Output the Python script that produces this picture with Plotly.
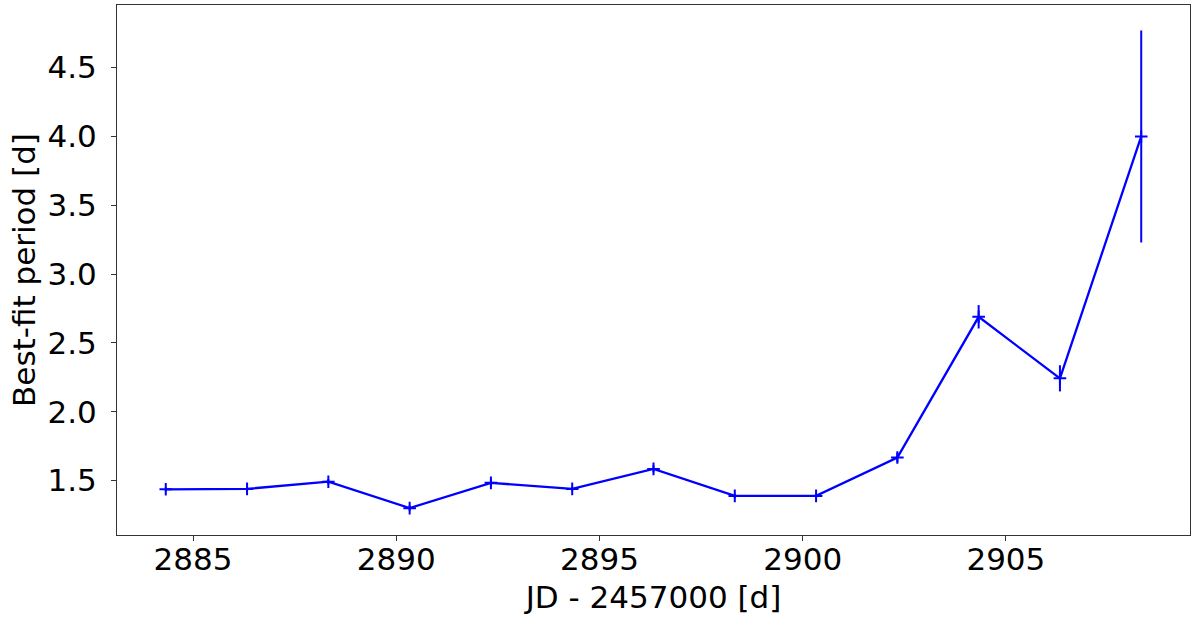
import plotly.graph_objects as go

# JD - 2457000 at the centre of each 2-day window
jd = [2884.33, 2886.33, 2888.33, 2890.33, 2892.33, 2894.33, 2896.33,
      2898.33, 2900.33, 2902.33, 2904.33, 2906.33, 2908.33]
period = [1.437, 1.440, 1.492, 1.300, 1.484, 1.440, 1.585,
          1.389, 1.389, 1.668, 2.690, 2.243, 4.000]
period_err = [0.015, 0.015, 0.02, 0.02, 0.025, 0.015, 0.025,
              0.015, 0.015, 0.035, 0.085, 0.095, 0.770]

blue = "#0000ff"
font = "DejaVu Sans"

fig = go.Figure()
fig.add_trace(go.Scatter(
    x=jd, y=period,
    mode="lines+markers",
    line=dict(color=blue, width=2.3),
    marker=dict(symbol="cross-thin", size=9, line=dict(color=blue, width=2)),
    error_y=dict(type="data", array=period_err, visible=True,
                 color=blue, thickness=2, width=0),
    showlegend=False,
))

axis_style = dict(
    showline=True, mirror=True, linecolor="#333333", linewidth=1,
    ticks="outside", ticklen=5, tickwidth=1, tickcolor="#333333",
    showgrid=False, zeroline=False, automargin=False,
    tickfont=dict(family=font, size=31, color="black"),
)

fig.update_layout(
    width=1200, height=617,
    margin=dict(l=117, r=10, t=5, b=82),
    plot_bgcolor="white", paper_bgcolor="white",
    font=dict(family=font, color="black"),
    xaxis=dict(range=[2883.13, 2909.53], tickvals=[2885, 2890, 2895, 2900, 2905],
               ticklabelstandoff=-8,
               title=dict(text="JD - 2457000 [d]", font=dict(size=31), standoff=10),
               **axis_style),
    yaxis=dict(range=[1.105, 4.955], tickvals=[1.5, 2.0, 2.5, 3.0, 3.5, 4.0, 4.5],
               tickformat=".1f", ticklabelstandoff=8,
               title=dict(text="Best-fit period [d]", font=dict(size=31), standoff=2),
               **axis_style),
)

# drop the page's default body margin so the figure sits at the window origin
fig.write_html("out.html", config={"displayModeBar": False},
               post_script="document.body.style.margin='0';document.body.style.overflow='hidden';")
